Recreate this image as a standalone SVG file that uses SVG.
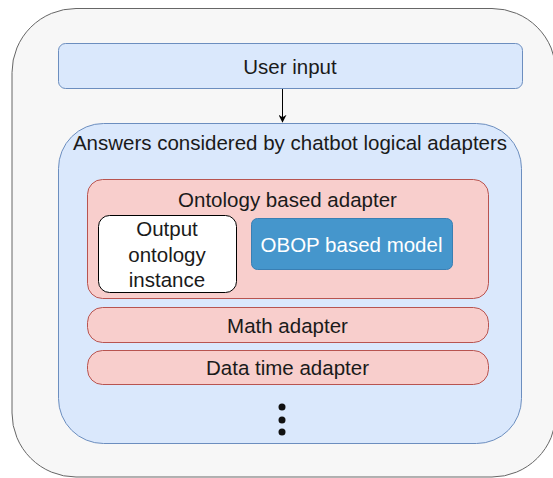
<svg xmlns="http://www.w3.org/2000/svg" width="553" height="478" viewBox="0 0 553 478">
<style>
text{font-family:"Liberation Sans",Arial,Helvetica,sans-serif;font-size:20.5px;fill:#1a1a1a;text-anchor:middle}
.blue{fill:#dae8fc;stroke:#6c8ebf;stroke-width:1}
.red{fill:#f8cecc;stroke:#b85450;stroke-width:1}
</style>
<defs>
<marker id="arr" viewBox="0 0 10 10" refX="9" refY="5" markerWidth="8" markerHeight="8" orient="auto" markerUnits="userSpaceOnUse">
<path d="M0,0 L10,5 L0,10 L3,5 Z" fill="#000"/>
</marker>
</defs>
<g id="outer"><rect x="12" y="8.5" width="544" height="468.5" rx="64" fill="#f7f7f7" stroke="#666"/></g>
<g id="user-input"><rect class="blue" x="58.5" y="43.5" width="464" height="45" rx="7"/><text x="290" y="74">User input</text></g>
<g id="answers"><rect class="blue" x="58.5" y="123.5" width="463" height="320" rx="45"/><text x="290" y="150">Answers considered by chatbot logical adapters</text></g>
<g id="ontology"><rect class="red" x="87.5" y="179.5" width="401" height="119" rx="15"/><text x="287.5" y="207">Ontology based adapter</text></g>
<g id="output-instance"><rect x="98.5" y="215.5" width="138" height="77" rx="11" fill="#fff" stroke="#000"/><text x="167" y="236">Output</text><text x="167" y="261.5">ontology</text><text x="167" y="287">instance</text></g>
<g id="obop"><rect x="251.5" y="218.5" width="201" height="51" rx="6" fill="#4596cc" stroke="#3a7fb3"/><text x="351.5" y="252" style="fill:#fff">OBOP based model</text></g>
<g id="math"><rect class="red" x="87.5" y="307.5" width="401" height="35" rx="15"/><text x="287.5" y="333">Math adapter</text></g>
<g id="datatime"><rect class="red" x="87.5" y="350.5" width="401" height="34" rx="15"/><text x="287.5" y="375">Data time adapter</text></g>
<g id="ellipsis"><circle cx="282" cy="407" r="3.5" fill="#111"/><circle cx="282" cy="420" r="3.5" fill="#111"/><circle cx="282" cy="432" r="3.5" fill="#111"/></g>
<g id="connectors"><line x1="282.5" y1="89" x2="282.5" y2="122" stroke="#000" stroke-width="1" marker-end="url(#arr)"/></g>
</svg>
